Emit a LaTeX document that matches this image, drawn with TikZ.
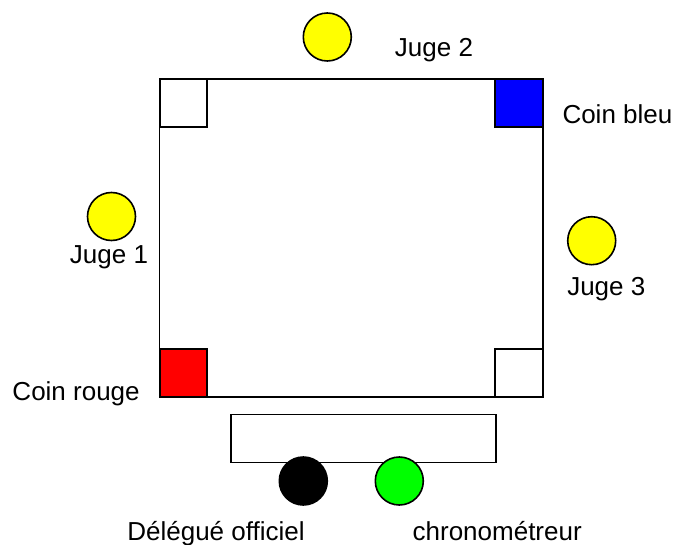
\documentclass[tikz,border=0pt]{standalone}
\usepackage{fontspec}
\setmainfont{Liberation Sans}
\definecolor{jyellow}{RGB}{255,255,0}
\definecolor{jgreen}{RGB}{0,255,0}
\definecolor{jblue}{RGB}{0,0,255}
\definecolor{jred}{RGB}{255,0,0}
\begin{document}
\begin{tikzpicture}[x=1pt,y=-1pt,
  line width=1.6pt,
  person/.style={circle,draw=black,minimum size=48pt,inner sep=0pt},
  corner/.style={rectangle,draw=black,minimum size=47.5pt,inner sep=0pt},
  lbl/.style={anchor=base,inner sep=0pt,font=\fontsize{26}{30}\selectfont}]
\useasboundingbox (0,0) rectangle (674,545);
% ring
\node[rectangle,draw=black,minimum width=383.5pt,minimum height=318pt,inner sep=0pt] (ring) at (351.25,238) {};
\node[corner,fill=white] (ctl) at (183.5,103) {};
\node[corner,fill=jblue] (ctr) at (519,103) {};
\node[corner,fill=jred] (cbl) at (183.5,373) {};
\node[corner,fill=white] (cbr) at (519,373) {};
% table
\node[rectangle,draw=black,minimum width=264.5pt,minimum height=48pt,inner sep=0pt] (table) at (363.5,438.3) {};
% persons
\node[person,fill=jyellow] (j2) at (327.3,37) {};
\node[person,fill=jyellow] (j1) at (111.5,216.5) {};
\node[person,fill=jyellow] (j3) at (591.7,240.7) {};
\node[person,fill=black] (del) at (303.3,481) {};
\node[person,fill=jgreen] (chr) at (399.3,481) {};
% labels
\node[lbl] (tj2) at (434,56.7) {Juge 2};
\node[lbl] (tj1) at (109,263) {Juge 1};
\node[lbl] (tj3) at (606.3,295) {Juge 3};
\node[lbl,anchor=base west] (tcb) at (561.7,123.3) {Coin bleu};
\node[lbl,anchor=base west] (tcr) at (11.7,400.7) {Coin rouge};
\node[lbl] (tdel) at (216,540) {Délégué officiel};
\node[lbl] (tchr) at (497.2,540.5) {chronométreur};
\end{tikzpicture}
\end{document}
